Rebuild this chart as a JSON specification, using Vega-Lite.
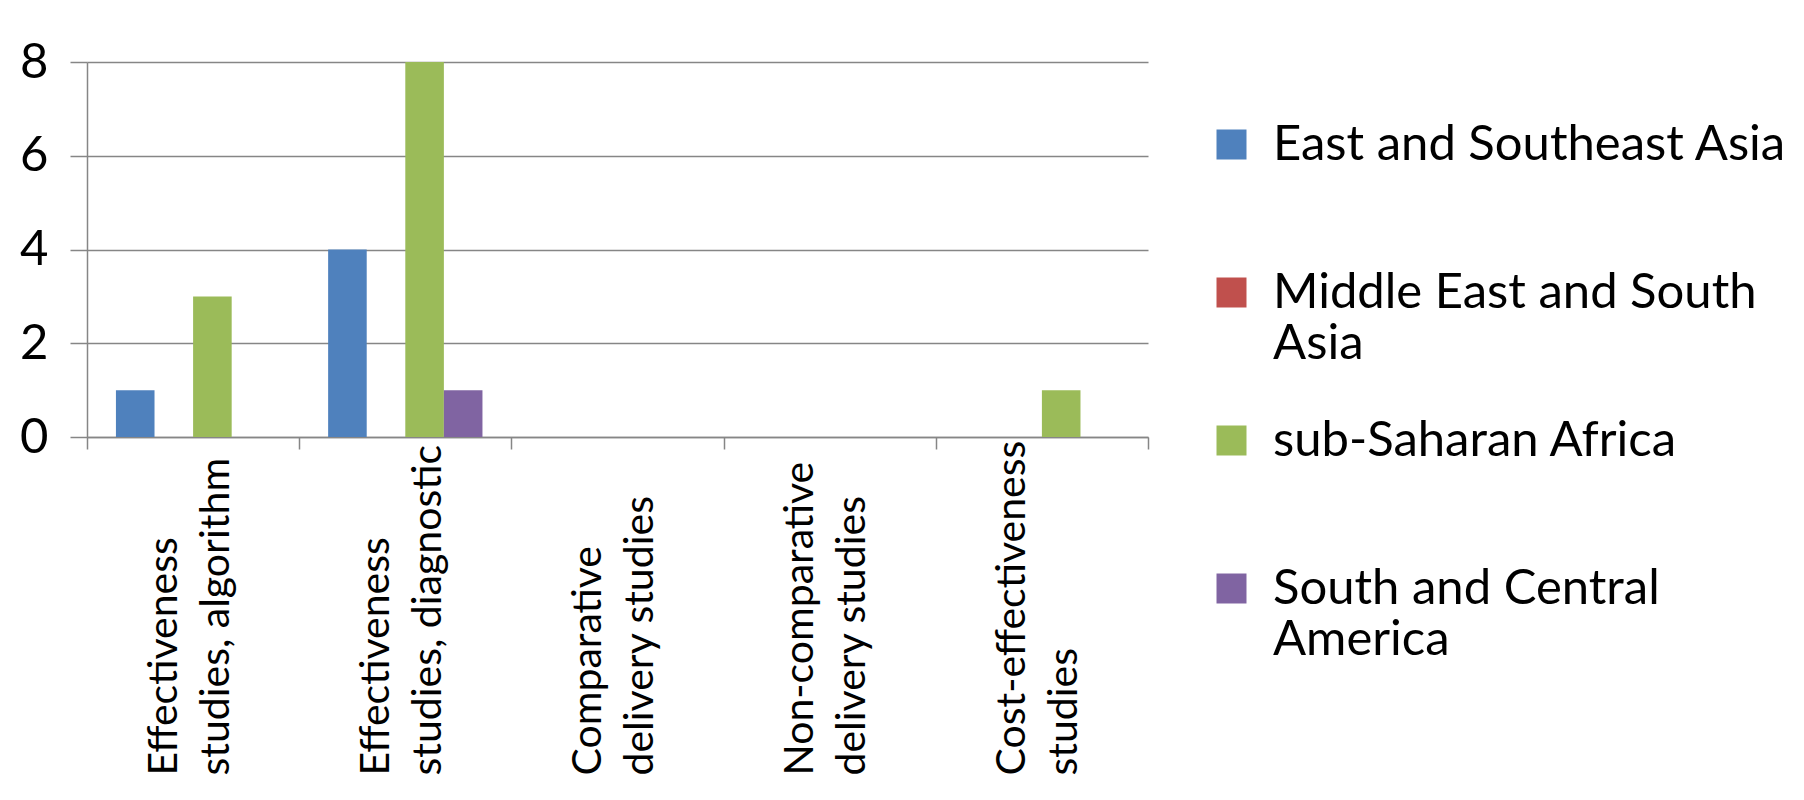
{
  "$schema": "https://vega.github.io/schema/vega-lite/v6.json",
  "autosize": {"type": "none"},
  "padding": {"left": 87, "top": 62, "right": 656, "bottom": 363},
  "width": 1061,
  "height": 375,
  "background": "white",
  "config": {"view": {"stroke": null}, "font": "Lato"},
  "data": {
    "values": [
      {"study_type": "Effectiveness studies, algorithm", "region": "East and Southeast Asia", "count": 1},
      {"study_type": "Effectiveness studies, algorithm", "region": "Middle East and South Asia", "count": 0},
      {"study_type": "Effectiveness studies, algorithm", "region": "sub-Saharan Africa", "count": 3},
      {"study_type": "Effectiveness studies, algorithm", "region": "South and Central America", "count": 0},
      {"study_type": "Effectiveness studies, diagnostic", "region": "East and Southeast Asia", "count": 4},
      {"study_type": "Effectiveness studies, diagnostic", "region": "Middle East and South Asia", "count": 0},
      {"study_type": "Effectiveness studies, diagnostic", "region": "sub-Saharan Africa", "count": 8},
      {"study_type": "Effectiveness studies, diagnostic", "region": "South and Central America", "count": 1},
      {"study_type": "Comparative delivery studies", "region": "East and Southeast Asia", "count": 0},
      {"study_type": "Comparative delivery studies", "region": "Middle East and South Asia", "count": 0},
      {"study_type": "Comparative delivery studies", "region": "sub-Saharan Africa", "count": 0},
      {"study_type": "Comparative delivery studies", "region": "South and Central America", "count": 0},
      {"study_type": "Non-comparative delivery studies", "region": "East and Southeast Asia", "count": 0},
      {"study_type": "Non-comparative delivery studies", "region": "Middle East and South Asia", "count": 0},
      {"study_type": "Non-comparative delivery studies", "region": "sub-Saharan Africa", "count": 0},
      {"study_type": "Non-comparative delivery studies", "region": "South and Central America", "count": 0},
      {"study_type": "Cost-effectiveness studies", "region": "East and Southeast Asia", "count": 0},
      {"study_type": "Cost-effectiveness studies", "region": "Middle East and South Asia", "count": 0},
      {"study_type": "Cost-effectiveness studies", "region": "sub-Saharan Africa", "count": 1},
      {"study_type": "Cost-effectiveness studies", "region": "South and Central America", "count": 0}
    ]
  },
  "mark": {"type": "bar"},
  "encoding": {
    "x": {
      "field": "study_type",
      "type": "nominal",
      "sort": ["Effectiveness studies, algorithm", "Effectiveness studies, diagnostic", "Comparative delivery studies", "Non-comparative delivery studies", "Cost-effectiveness studies"],
      "scale": {"paddingInner": 0, "paddingOuter": 0},
      "axis": {
        "title": null,
        "labelAngle": -90,
        "labelAlign": "left",
        "labelBaseline": "middle",
        "labelPadding": 326,
        "labelOffset": -29,
        "labelFontSize": 41,
        "labelLineHeight": 52,
        "labelColor": "#000000",
        "labelLimit": 1000,
        "labelOverlap": false,
        "tickSize": 12,
        "tickWidth": 1.5,
        "tickBand": "extent",
        "tickColor": "#868686",
        "domainColor": "#868686",
        "domainWidth": 1.5,
        "grid": false,
        "labelExpr": "datum.label == 'Effectiveness studies, algorithm' ? ['Effectiveness', 'studies, algorithm'] : datum.label == 'Effectiveness studies, diagnostic' ? ['Effectiveness', 'studies, diagnostic'] : datum.label == 'Comparative delivery studies' ? ['Comparative', 'delivery studies'] : datum.label == 'Non-comparative delivery studies' ? ['Non-comparative', 'delivery studies'] : datum.label == 'Cost-effectiveness studies' ? ['Cost-effectiveness', 'studies'] : ''"
      }
    },
    "xOffset": {
      "field": "region",
      "type": "nominal",
      "sort": ["East and Southeast Asia", "Middle East and South Asia", "sub-Saharan Africa", "South and Central America"],
      "scale": {"paddingInner": 0, "paddingOuter": 0.75}
    },
    "y": {
      "field": "count",
      "type": "quantitative",
      "scale": {"domain": [0, 8], "nice": false},
      "axis": {
        "title": null,
        "values": [0, 2, 4, 6, 8],
        "tickSize": 17,
        "tickWidth": 1.5,
        "tickColor": "#868686",
        "domainColor": "#868686",
        "domainWidth": 1.5,
        "grid": true,
        "gridColor": "#868686",
        "gridWidth": 1.5,
        "labelFontSize": 49,
        "labelPadding": 22,
        "labelColor": "#000000"
      }
    },
    "color": {
      "field": "region",
      "type": "nominal",
      "scale": {
        "domain": ["East and Southeast Asia", "Middle East and South Asia", "sub-Saharan Africa", "South and Central America"],
        "range": ["#4F81BD", "#C0504D", "#9BBB59", "#8064A2"]
      },
      "legend": {
        "title": null,
        "orient": "none",
        "legendX": 1120,
        "legendY": 58,
        "padding": 0,
        "symbolType": "square",
        "symbolSize": 900,
        "symbolStrokeWidth": 0,
        "labelFontSize": 49,
        "labelLineHeight": 67,
        "labelLimit": 1000,
        "labelOffset": 17,
        "labelColor": "#000000",
        "rowPadding": 47,
        "gridAlign": "all",
        "labelExpr": "datum.label == 'Middle East and South Asia' ? ['Middle East and South', 'Asia'] : datum.label == 'South and Central America' ? ['South and Central', 'America'] : datum.label"
      }
    }
  }
}
